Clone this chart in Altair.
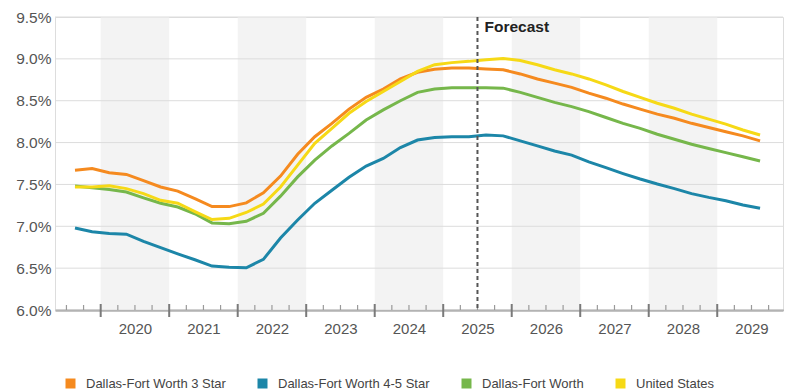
import altair as alt
import pandas as pd

# Quarterly cap rates (%), 2019 Q3 through 2029 Q3; forecast starts mid-2025
FIRST_QUARTER = 2019.625  # mid-point of 2019 Q3 on a fractional-year axis

SERIES = [
    "Dallas-Fort Worth 3 Star",
    "Dallas-Fort Worth 4-5 Star",
    "Dallas-Fort Worth",
    "United States",
]
COLORS = ["#f58a1f", "#1c86a8", "#76b74b", "#f6d916"]

dfw_3_star = [7.67, 7.69, 7.64, 7.62, 7.545, 7.47, 7.42, 7.33, 7.235, 7.235,
              7.28, 7.40, 7.60, 7.86, 8.07, 8.23, 8.40, 8.54, 8.64, 8.76,
              8.84, 8.875, 8.89, 8.89, 8.88, 8.87, 8.82, 8.76, 8.71, 8.66,
              8.59, 8.53, 8.46, 8.40, 8.34, 8.29, 8.23, 8.18, 8.13, 8.08, 8.02]
dfw_4_5_star = [6.98, 6.935, 6.915, 6.905, 6.82, 6.745, 6.67, 6.60, 6.525, 6.51,
                6.505, 6.605, 6.86, 7.075, 7.275, 7.43, 7.585, 7.72, 7.81, 7.94,
                8.03, 8.06, 8.07, 8.07, 8.09, 8.08, 8.02, 7.96, 7.90, 7.85,
                7.77, 7.70, 7.63, 7.565, 7.505, 7.45, 7.39, 7.345, 7.305, 7.255, 7.215]
dfw_all = [7.48, 7.46, 7.44, 7.41, 7.34, 7.275, 7.23, 7.15, 7.04, 7.03,
           7.06, 7.155, 7.36, 7.59, 7.79, 7.96, 8.11, 8.27, 8.39, 8.50,
           8.60, 8.64, 8.655, 8.655, 8.655, 8.65, 8.60, 8.54, 8.48, 8.43,
           8.37, 8.30, 8.23, 8.17, 8.10, 8.04, 7.98, 7.93, 7.88, 7.83, 7.78]
united_states = [7.47, 7.47, 7.485, 7.45, 7.39, 7.31, 7.275, 7.175, 7.08, 7.095,
                 7.165, 7.265, 7.47, 7.73, 7.99, 8.17, 8.35, 8.49, 8.61, 8.73,
                 8.85, 8.93, 8.955, 8.97, 8.99, 9.005, 8.98, 8.93, 8.87, 8.82,
                 8.76, 8.69, 8.61, 8.54, 8.47, 8.41, 8.34, 8.28, 8.22, 8.15, 8.09]

YEARS = list(range(2020, 2030))
SHADED_YEARS = [2020, 2022, 2024, 2026, 2028]
Y_TICKS = [6.0, 6.5, 7.0, 7.5, 8.0, 8.5, 9.0, 9.5]
FORECAST_START = 2025.5

W, H = 728, 293
X_DOMAIN = [2019.333, 2029.96]

# ---- tables --------------------------------------------------------------
rows = []
for name, vals in zip(SERIES, [dfw_3_star, dfw_4_5_star, dfw_all, united_states]):
    for i, v in enumerate(vals):
        rows.append({"yr": FIRST_QUARTER + 0.25 * i, "rate": v, "series": name})
lines_df = pd.DataFrame(rows)

bands_df = pd.DataFrame({"yr": SHADED_YEARS, "yr_end": [y + 1 for y in SHADED_YEARS]})
grid_df = pd.DataFrame({"rate": Y_TICKS})
major_df = pd.DataFrame({"yr": YEARS})
minor = [y + q for y in [2019] + YEARS for q in (0.25, 0.5, 0.75)]
minor_df = pd.DataFrame({"yr": [m for m in minor if X_DOMAIN[0] < m < X_DOMAIN[1]]})
forecast_df = pd.DataFrame({"yr": [FORECAST_START], "label": ["Forecast"]})

# ---- shared scales / axes --------------------------------------------------
x_scale = alt.Scale(domain=X_DOMAIN, nice=False, zero=False)
y_scale = alt.Scale(domain=[6.0, 9.5], nice=False, zero=False)
x_axis = alt.Axis(
    values=[y + 0.5 for y in YEARS],
    labelExpr="'' + floor(datum.value)",
    ticks=False, grid=False, title=None,
    domainColor="#8a8a8a", domainWidth=2,
    labelFont="Liberation Sans", labelFontSize=15, labelColor="#555555",
    labelPadding=11, labelFlush=False, labelOverlap=False,
)
y_axis = alt.Axis(
    values=Y_TICKS,
    labelExpr="format(datum.value, '.1f') + '%'",
    ticks=False, grid=False, domain=False, title=None,
    labelFont="Liberation Sans", labelFontSize=15.5, labelColor="#555555",
    labelPadding=4,
)


def X(field="yr"):
    return alt.X(f"{field}:Q", scale=x_scale, axis=x_axis)


def Y(field="rate"):
    return alt.Y(f"{field}:Q", scale=y_scale, axis=y_axis)


bands = alt.Chart(bands_df).mark_rect(color="#f3f3f3").encode(
    x=X(), x2="yr_end:Q"
)

grid = alt.Chart(grid_df).mark_rule(color="#dcdcdc", strokeWidth=1).encode(y=Y())

major_ticks = alt.Chart(major_df).mark_rule(color="#7a7a7a", strokeWidth=2).encode(
    x=X(), y=alt.value(H - 6), y2=alt.value(H + 7)
)
minor_ticks = alt.Chart(minor_df).mark_rule(color="#9a9a9a", strokeWidth=1.2).encode(
    x=X(), y=alt.value(H - 5), y2=alt.value(H)
)

forecast_rule = alt.Chart(forecast_df).mark_rule(
    color="#555555", strokeWidth=2, strokeDash=[4, 3]
).encode(x=X())

forecast_text = alt.Chart(forecast_df).mark_text(
    align="left", baseline="alphabetic", dx=7,
    font="Liberation Sans", fontSize=15.5, fontWeight="bold", color="#222222",
).encode(x=X(), y=alt.value(15), text="label:N")

# legend swatches: a small square outlined by a thick stroke reads as a solid block
lines = alt.Chart(lines_df).mark_line(strokeWidth=3).encode(
    x=X(),
    y=Y(),
    color=alt.Color(
        "series:N",
        scale=alt.Scale(domain=SERIES, range=COLORS),
        legend=alt.Legend(
            title=None,
            orient="none",
            legendX=9,
            legendY=360,
            direction="horizontal",
            columns=4,
            columnPadding=24,
            padding=0,
            symbolType="square",
            symbolSize=25,
            symbolStrokeWidth=5,
            labelOffset=9,
            labelFont="Liberation Sans",
            labelFontSize=13,
            labelColor="#444444",
        ),
    ),
    detail="series:N",
)

chart = alt.layer(
    bands, grid, major_ticks, minor_ticks, lines, forecast_rule, forecast_text
).properties(
    width=W,
    height=H,
    autosize=alt.AutoSizeParams(type="none"),
    padding={"left": 55, "top": 17, "right": 10, "bottom": 82},
).configure_view(stroke=None).configure(background="white")

chart.save("out.html", embed_options={"renderer": "svg", "actions": False})
